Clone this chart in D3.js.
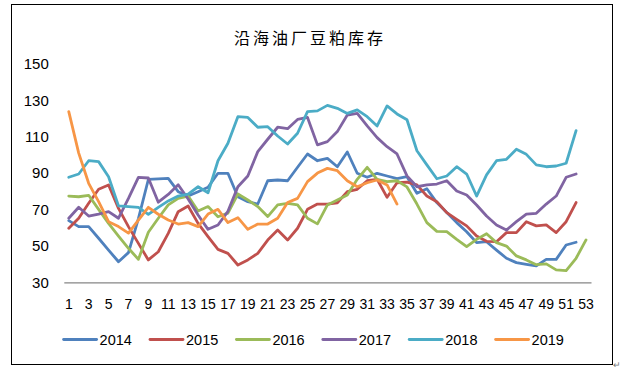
<!DOCTYPE html>
<html>
<head>
<meta charset="utf-8">
<script src="https://cdn.jsdelivr.net/npm/d3@7"></script>
<style>
body { margin: 0; background: #fff; }
text { font-family: "Liberation Sans", Arial, sans-serif; fill: #000; }
</style>
</head>
<body>
<svg width="629" height="376"></svg>
<script>
// weeks 1..53
var weeks = d3.range(1, 54);
var years = ["2014", "2015", "2016", "2017", "2018", "2019"];
var colors = ["#4F81BD", "#C0504D", "#9BBB59", "#8064A2", "#4BACC6", "#F79646"];
var yTicks = [30, 50, 70, 90, 110, 130, 150];
var xTicks = weeks.filter(function (d) { return d % 2 == 1; });

var s2014 = [63.9, 60.6, 60.6, 54.2, 47.7, 41.3, 46.3, 65, 86.5, 86.8, 87.1, 79.8, 77.4, 79.8, 82.2, 89.9, 89.9, 77, 74.3, 73,
    85.8, 86.2, 85.8, 93.2, 100.5, 96.8, 98.1, 93.5, 101.6, 89.9, 87.7, 89.9, 88.4, 87, 88, 78.9, 81.4, 73.8, 68.3, 62.8,
    57.8, 51.8, 52.3, 47.7, 43.2, 40.8, 39.9, 39, 42.6, 42.6, 50.5, 52];
var s2015 = [59.7, 65.2, 73.4, 81.1, 83.5, 70.6, 60.6, 51.4, 42.3, 46.8, 56.9, 68.8, 71.9, 62.4, 55.1, 48.1, 45.9, 39.5, 42.3, 45.9,
    53.2, 58.7, 53.2, 59.7, 70.1, 73, 73, 73.7, 79.8, 81.1, 85.8, 86.6, 76.7, 84.7, 85, 83.5, 77.4, 74.3, 68.3, 64.6,
    61, 55.4, 52.5, 52.3, 57.3, 57.3, 63.3, 61, 61.5, 57.3, 63.3, 73.8];
var s2016 = [77.4, 77, 77.8, 70.1, 62.4, 55.4, 48.7, 42.6, 57.5, 65.2, 72.5, 76.1, 77.4, 69.2, 71.6, 66, 68, 78.5, 75.2, 71.6,
    66.1, 72.5, 73.4, 72.5, 65.2, 62.1, 72.5, 75.2, 78, 86.6, 93.2, 86.6, 85.3, 85.8, 82.4, 73, 62.8, 58, 57.8, 53.6,
    49.6, 53.6, 56.7, 51.8, 49.9, 44.5, 42.3, 39.7, 40.1, 36.8, 36.4, 43.2, 53.3];
var s2017 = [65.2, 71.2, 66.4, 67.5, 68.8, 65.2, 76.1, 87.7, 87.3, 74, 78.3, 83.6, 75.8, 67, 59.1, 61.5, 69, 82.5, 88.4, 101.8,
    108.6, 115.2, 114.4, 119.5, 120.6, 105.5, 107.3, 112.8, 121.9, 122.8, 115.9, 109.5, 104.5, 100.5, 88.5, 82.5, 83.5, 84, 85.8, 80.2,
    78, 72.5, 66.4, 61.5, 58.7, 63.3, 67.5, 67.9, 73, 77.4, 87.7, 89.5];
var s2018 = [87.7, 89.5, 96.8, 96.3, 88, 72, 71.6, 71.2, 67.3, 71.2, 74.7, 77.4, 78.5, 82.5, 79.2, 96.8, 106.4, 121, 120.6, 115.2,
    115.5, 110.4, 106, 111.9, 123.8, 124.2, 127.2, 125.6, 122.8, 124.7, 121, 115.9, 126.9, 122.5, 119.3, 102.3, 94.5, 86.9, 88.4, 93.5,
    89.5, 77.4, 89, 96.8, 97.6, 103.1, 100.3, 94.5, 93.5, 93.9, 95.4, 113.3];
var s2019 = [123.8, 101, 84.4, 74.3, 63.3, 60.6, 57, 64.2, 71.2, 67.4, 64.2, 62, 62.8, 60.6, 67.5, 70.1, 62.8, 65.5, 59.1, 62,
    62, 65.2, 73.8, 76.1, 85.3, 90, 92.6, 91.3, 85.8, 82.5, 84.7, 86.2, 83.5, 73];
var series = [s2014, s2015, s2016, s2017, s2018, s2019];

var svg = d3.select("svg");

// outer frame
svg.append("rect")
    .attr("x", 11.5).attr("y", 4.5)
    .attr("width", 601).attr("height", 360)
    .attr("fill", "none").attr("stroke", "#000").attr("stroke-width", 1);

svg.append("text")
    .attr("x", 310).attr("y", 44)
    .attr("text-anchor", "middle")
    .style("font-family", "'Noto Sans CJK SC', sans-serif")
    .style("font-size", "16px")
    .style("letter-spacing", "3px")
    .text("沿海油厂豆粕库存");

var x = d3.scaleBand().domain(weeks).range([63.8, 591]);
var y = d3.scaleLinear().domain([30, 150]).range([282.3, 63.9]);
var xc = function (d) { return x(d) + x.bandwidth() / 2; };

var yAxis = svg.append("g")
    .attr("transform", "translate(63.8,0)")
    .call(d3.axisLeft(y).tickValues(yTicks).tickSize(0).tickPadding(15));
yAxis.select(".domain").remove();
yAxis.selectAll("text").style("font-size", "15px").style("font-family", "'Liberation Sans', sans-serif");

var xAxis = svg.append("g")
    .attr("transform", "translate(0,282.3)")
    .call(d3.axisBottom(x).tickValues(xTicks).tickSize(0).tickSizeOuter(0).tickPadding(17));
xAxis.select(".domain").attr("stroke", "#868686").attr("stroke-width", 1.3);
xAxis.selectAll("text").style("font-size", "14px").style("font-family", "'Liberation Sans', sans-serif");

var line = d3.line()
    .x(function (d, i) { return xc(weeks[i]); })
    .y(function (d) { return y(d); });

svg.selectAll(".series")
    .data(series).enter()
    .append("path")
    .attr("class", "series")
    .attr("d", function (d) { return line(d); })
    .attr("fill", "none")
    .attr("stroke", function (d, i) { return colors[i]; })
    .attr("stroke-width", 2.8)
    .attr("stroke-linejoin", "round")
    .attr("stroke-linecap", "round");

// legend
var leg = svg.selectAll(".leg")
    .data(years).enter()
    .append("g")
    .attr("class", "leg")
    .attr("transform", function (d, i) { return "translate(" + (63.6 + i * 86.4) + ",339.5)"; });
leg.append("line")
    .attr("x1", 0).attr("x2", 33)
    .attr("stroke", function (d, i) { return colors[i]; })
    .attr("stroke-width", 2.8)
    .attr("stroke-linecap", "round");
leg.append("text")
    .attr("x", 36).attr("dy", "0.35em")
    .style("font-size", "14.5px")
    .text(function (d) { return d; });

svg.append("text")
    .attr("x", 613).attr("y", 368)
    .style("font-size", "9px").style("fill", "#777")
    .text("↵");
</script>
</body>
</html>
